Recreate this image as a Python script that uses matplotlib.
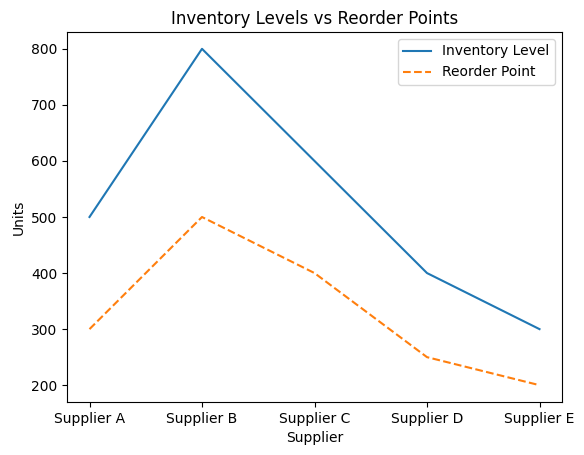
import matplotlib
matplotlib.use("Agg")
import matplotlib.pyplot as plt

suppliers = ["Supplier A", "Supplier B", "Supplier C", "Supplier D", "Supplier E"]
inventory = [500, 800, 600, 400, 300]
reorder = [300, 500, 400, 250, 200]

fig = plt.figure(figsize=(5.84, 4.55), dpi=100)
ax = fig.add_axes([67/584, 1-402/455, (562-67)/584, (402-32)/455])
ax.plot(suppliers, inventory, label="Inventory Level")
ax.plot(suppliers, reorder, linestyle="--", label="Reorder Point")
ax.set_title("Inventory Levels vs Reorder Points")
ax.set_xlabel("Supplier")
ax.set_ylabel("Units")
ax.legend()
fig.savefig("out.png", dpi=100)
